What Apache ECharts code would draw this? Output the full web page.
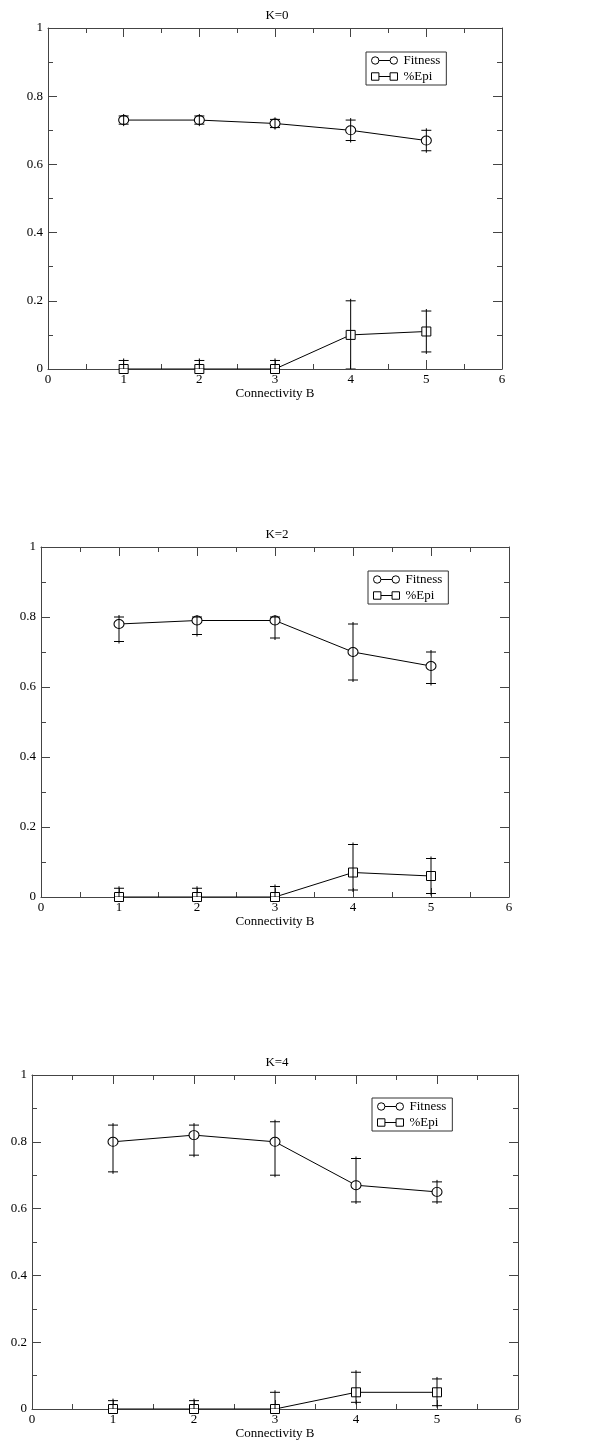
<!DOCTYPE html>
<html><head><meta charset="utf-8">
<script src="https://cdn.jsdelivr.net/npm/echarts@6/dist/echarts.min.js"></script>
<style>html,body{margin:0;padding:0;background:#fff}#c{width:610px;height:1442px}</style>
</head><body><div id="c"></div>
<script>
// ---- data ----
const bValues = [1, 2, 3, 4, 5];
const panelTitles = ['K=0', 'K=2', 'K=4'];
const xTickValues = [0, 1, 2, 3, 4, 5, 6];
const yTickLabels = ['0', '0.2', '0.4', '0.6', '0.8', '1'];
const xAxisTitle = 'Connectivity B';
const seriesNames = ['Fitness', '%Epi'];

const fitnessK0 = [0.73, 0.73, 0.72, 0.70, 0.67];
const fitnessK0Low = [0.718, 0.718, 0.708, 0.67, 0.64];
const fitnessK0High = [0.742, 0.742, 0.732, 0.73, 0.70];
const epiK0 = [0, 0, 0, 0.10, 0.11];
const epiK0Low = [0, 0, 0, 0, 0.05];
const epiK0High = [0.025, 0.025, 0.025, 0.20, 0.17];

const fitnessK2 = [0.78, 0.79, 0.79, 0.70, 0.66];
const fitnessK2Low = [0.73, 0.75, 0.74, 0.62, 0.61];
const fitnessK2High = [0.80, 0.80, 0.80, 0.78, 0.70];
const epiK2 = [0, 0, 0, 0.07, 0.06];
const epiK2Low = [0, 0, 0, 0.02, 0.01];
const epiK2High = [0.025, 0.025, 0.03, 0.15, 0.11];

const fitnessK4 = [0.80, 0.82, 0.80, 0.67, 0.65];
const fitnessK4Low = [0.71, 0.76, 0.70, 0.62, 0.62];
const fitnessK4High = [0.85, 0.85, 0.86, 0.75, 0.68];
const epiK4 = [0, 0, 0, 0.05, 0.05];
const epiK4Low = [0, 0, 0, 0.02, 0.01];
const epiK4High = [0.025, 0.025, 0.05, 0.11, 0.09];

const panels = [
  { fit: fitnessK0, fitLo: fitnessK0Low, fitHi: fitnessK0High, epi: epiK0, epiLo: epiK0Low, epiHi: epiK0High },
  { fit: fitnessK2, fitLo: fitnessK2Low, fitHi: fitnessK2High, epi: epiK2, epiLo: epiK2Low, epiHi: epiK2High },
  { fit: fitnessK4, fitLo: fitnessK4Low, fitHi: fitnessK4High, epi: epiK4, epiLo: epiK4Low, epiHi: epiK4High }
];

// ---- layout ----
const FONT = '"Liberation Serif", "DejaVu Serif", serif';
const grids = [
  { left: 48, top: 28, width: 454, height: 341 },
  { left: 41, top: 547, width: 468, height: 350 },
  { left: 32, top: 1075, width: 486, height: 334 }
];
const titleTops = [4, 523, 1051];
const legendPos = [
  { left: 366, top: 52 },
  { left: 368, top: 571 },
  { left: 372, top: 1098 }
];
const AXIS_COLOR = '#444';

const circleIcon = 'path://M1,5 A4,4 0 1,1 9,5 A4,4 0 1,1 1,5 Z M9,5 L21,5 M21,5 A4,4 0 1,1 29,5 A4,4 0 1,1 21,5 Z';
const squareIcon = 'path://M1,1 L9,1 L9,9 L1,9 Z M9,5 L21,5 M21,1 L29,1 L29,9 L21,9 Z';

const xAxes = [], yAxes = [], series = [], titles = [], legends = [];

function baseAxis(gridIndex, position, showLabels) {
  return {
    type: 'value', gridIndex, position,
    axisLine: { show: true, onZero: false, lineStyle: { color: AXIS_COLOR, width: 1 } },
    axisTick: { show: true, inside: true, length: 9, lineStyle: { color: AXIS_COLOR } },
    minorTick: { show: true, splitNumber: 2, length: 5, lineStyle: { color: AXIS_COLOR } },
    splitLine: { show: false },
    axisLabel: { show: showLabels, color: '#000', fontFamily: FONT, fontSize: 13 }
  };
}

function errorRender(params, api) {
  const x = api.value(0), lo = api.value(1), hi = api.value(2);
  const pHi = api.coord([x, hi]);
  const pLo = api.coord([x, lo]);
  const w = 5, ext = 2;
  const style = { stroke: '#000', lineWidth: 1 };
  return {
    type: 'group',
    children: [
      { type: 'line', shape: { x1: pHi[0], y1: pHi[1] - ext, x2: pLo[0], y2: pLo[1] + ext }, style },
      { type: 'line', shape: { x1: pHi[0] - w, y1: pHi[1], x2: pHi[0] + w, y2: pHi[1] }, style },
      { type: 'line', shape: { x1: pLo[0] - w, y1: pLo[1], x2: pLo[0] + w, y2: pLo[1] }, style }
    ]
  };
}

panels.forEach((p, i) => {
  const xb = baseAxis(i, 'bottom', true);
  Object.assign(xb, {
    min: 0, max: 6, interval: 1,
    name: xAxisTitle, nameLocation: 'middle', nameGap: 18,
    nameTextStyle: { color: '#000', fontFamily: FONT, fontSize: 13 }
  });
  xb.axisLabel.margin = 4;
  xb.axisLabel.formatter = v => (xTickValues.indexOf(v) >= 0 ? String(v) : '');
  const xt = baseAxis(i, 'top', false);
  Object.assign(xt, { min: 0, max: 6, interval: 1 });
  const yl = baseAxis(i, 'left', true);
  Object.assign(yl, { min: 0, max: 1, interval: 0.2 });
  yl.axisLabel.margin = 5;
  yl.axisLabel.formatter = v => yTickLabels[Math.round(v / 0.2)];
  const yr = baseAxis(i, 'right', false);
  Object.assign(yr, { min: 0, max: 1, interval: 0.2 });
  xAxes.push(xb, xt);
  yAxes.push(yl, yr);
  const xi = i * 2, yi = i * 2;

  titles.push({
    text: panelTitles[i],
    left: grids[i].left + grids[i].width / 2 - 3,
    textAlign: 'center',
    top: titleTops[i],
    textStyle: { fontFamily: FONT, fontSize: 13, fontWeight: 'normal', color: '#000' }
  });

  legends.push({
    left: legendPos[i].left, top: legendPos[i].top,
    orient: 'vertical',
    data: [{ name: seriesNames[0], icon: circleIcon }, { name: seriesNames[1], icon: squareIcon }],
    itemWidth: 26, itemHeight: 9, itemGap: 3,
    padding: [2, 6, 2, 5],
    borderColor: '#333', borderWidth: 1,
    selectedMode: false,
    itemStyle: { color: 'rgba(0,0,0,0)', borderColor: '#000', borderWidth: 1 },
    lineStyle: { color: '#000' },
    textStyle: { fontFamily: FONT, fontSize: 13, color: '#000', padding: [0, 0, 0, 1] }
  });

  const mk = (name, vals, symbol) => ({
    name, type: 'line', xAxisIndex: xi, yAxisIndex: yi,
    data: bValues.map((b, k) => [b, vals[k]]),
    symbol, symbolSize: symbol === 'circle' ? [10, 9] : 9,
    lineStyle: { color: '#000', width: 1 },
    itemStyle: { color: '#fff', borderColor: '#000', borderWidth: 1 },
    z: 2, animation: false
  });
  const eb = (name, lo, hi) => ({
    name, type: 'custom', xAxisIndex: xi, yAxisIndex: yi,
    data: bValues.map((b, k) => [b, lo[k], hi[k]]),
    renderItem: errorRender, clip: true, z: 3, animation: false,
    encode: { x: 0, y: [1, 2] }
  });
  series.push(mk(seriesNames[0], p.fit, 'circle'), mk(seriesNames[1], p.epi, 'rect'),
    eb(seriesNames[0], p.fitLo, p.fitHi), eb(seriesNames[1], p.epiLo, p.epiHi));
});

const chart = echarts.init(document.getElementById('c'), null, { renderer: 'canvas' });
chart.setOption({
  backgroundColor: '#fff',
  animation: false,
  title: titles,
  legend: legends,
  grid: grids,
  xAxis: xAxes,
  yAxis: yAxes,
  series
});
</script></body></html>
